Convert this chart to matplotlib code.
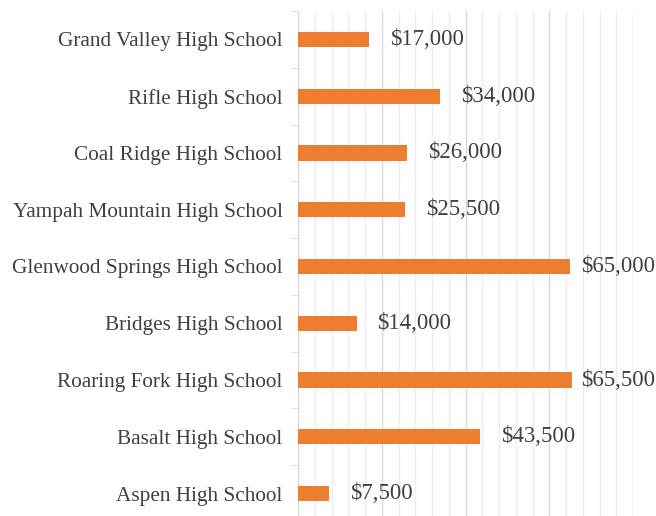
import numpy as np
import matplotlib.pyplot as plt
from matplotlib.ticker import MultipleLocator

schools = ["Aspen High School", "Basalt High School", "Roaring Fork High School",
           "Bridges High School", "Glenwood Springs High School",
           "Yampah Mountain High School", "Coal Ridge High School",
           "Rifle High School", "Grand Valley High School"]
amounts = [7500, 43500, 65500, 14000, 65000, 25500, 26000, 34000, 17000]

orange = "#ED7D31"
text_col = "#404040"
plt.rcParams['font.family'] = ['Liberation Serif', 'DejaVu Serif']

fig = plt.figure(figsize=(6.56, 5.16), dpi=100)
# axes placed by pixel: left 298, right 633, top 11, bottom 522 (runs past the image)
ax = fig.add_axes([298 / 656, 1 - 522 / 516, 335 / 656, 511 / 516])

y = np.arange(len(schools))
ax.barh(y, amounts, height=0.27, color=orange, zorder=3)

# labels sit outside the bar end, but get pushed back in at the right edge
edge = (655 - 298) / 335 * 80000
for yi, v in zip(y, amounts):
    if v > 60000:
        ax.text(edge, yi, f"${v:,}", va="center", ha="right",
                fontsize=16.5, color=text_col, zorder=4)
    else:
        ax.text(v + 5000, yi, f"${v:,}", va="center", ha="left",
                fontsize=16.5, color=text_col, zorder=4)

ax.set_xlim(0, 80000)
ax.set_ylim(-0.5, 8.5)
ax.xaxis.set_major_locator(MultipleLocator(20000))
ax.xaxis.set_minor_locator(MultipleLocator(4000))
ax.grid(axis="x", which="major", color="#d9d9d9", linewidth=1.0, zorder=0)
ax.grid(axis="x", which="minor", color="#eeeeee", linewidth=1.0, zorder=0)
ax.tick_params(axis="x", which="both", bottom=False, labelbottom=False)

ax.set_yticks(y)
ax.set_yticklabels(schools, fontsize=15.3, color=text_col)
ax.set_yticks(np.arange(-0.5, 9, 1), minor=True)
ax.tick_params(axis="y", which="major", length=0, pad=11)
ax.tick_params(axis="y", which="minor", length=5, color="#d9d9d9")

for s in ["top", "right", "bottom"]:
    ax.spines[s].set_visible(False)
ax.spines["left"].set_color("#d9d9d9")

fig.savefig("out.png", dpi=100)
